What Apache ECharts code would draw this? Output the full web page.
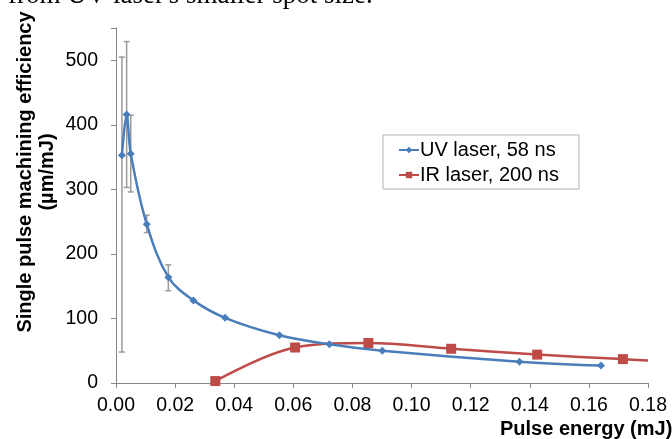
<!DOCTYPE html>
<html><head><meta charset="utf-8">
<script src="https://cdn.jsdelivr.net/npm/echarts@6/dist/echarts.min.js"></script>
<style>html,body{margin:0;padding:0;background:#fff}#c{width:672px;height:439px}</style>
</head><body><div id="c"></div>
<script>
const uvX = [0.002, 0.0036, 0.005, 0.0104, 0.0177, 0.0262, 0.0369, 0.0553, 0.0722, 0.0901, 0.1365, 0.1641];
const uvY = [353, 416, 355, 246, 164, 128, 101, 74, 60, 50, 33, 27];
const uvErrLow = [48, 303, 296, 233, 143, null, null, null, null, null, null, null];
const uvErrHigh = [505, 529, 415, 260, 183, null, null, null, null, null, null, null];
const irX = [0.0336, 0.0606, 0.0854, 0.1134, 0.1425, 0.1715, 0.18];
const irY = [3, 55, 62, 53, 44, 37, 35];
const irMarker = [true, true, true, true, true, true, false];
const xTicks = ['0.00','0.02','0.04','0.06','0.08','0.10','0.12','0.14','0.16','0.18'];
const yTicks = ['0','100','200','300','400','500'];

const uvData = uvX.map((x, i) => [x, uvY[i]]);
const irData = irX.map((x, i) => irMarker[i] ? [x, irY[i]] : {value: [x, irY[i]], symbol: 'none'});
const errData = [];
uvX.forEach((x, i) => { if (uvErrLow[i] != null) errData.push([x, uvErrLow[i], uvErrHigh[i]]); });

const chart = echarts.init(document.getElementById('c'));
const axisCol = '#868686';
chart.setOption({
  animation: false,
  textStyle: {fontFamily: 'Liberation Sans'},
  grid: {left: 116, right: 24, top: 28, bottom: 56},
  xAxis: {
    type: 'value', min: 0, max: 0.18, interval: 0.02,
    axisLine: {lineStyle: {color: axisCol}},
    axisTick: {show: true, length: 5, lineStyle: {color: axisCol}},
    splitLine: {show: false},
    axisLabel: {color: '#000', fontSize: 19.5, margin: 13, formatter: v => xTicks[Math.round(v / 0.02)]}
  },
  yAxis: {
    type: 'value', min: 0, max: 550, interval: 100,
    axisLine: {show: true, lineStyle: {color: axisCol}},
    axisTick: {show: true, length: 5, lineStyle: {color: axisCol}},
    splitLine: {show: false},
    axisLabel: {color: '#000', fontSize: 19.5, margin: 18, formatter: v => (v % 100 === 0 && v <= 500) ? yTicks[v / 100] : ''}
  },
  legend: {
    show: true, left: 383, top: 135, orient: 'vertical', itemGap: 5,
    padding: [5, 20, 4, 15], borderColor: '#b3b3b3', borderWidth: 1, borderRadius: 0,
    itemWidth: 20, itemHeight: 8,
    textStyle: {fontSize: 20, color: '#000', padding: [0, 0, 0, -4]},
    data: [{name: 'UV laser, 58 ns'}, {name: 'IR laser, 200 ns'}]
  },
  graphic: [
    {type: 'text', left: 8, top: -18, style: {text: "from UV laser's smaller spot size.", font: '27px "Liberation Serif"', fill: '#000'}},
    {type: 'text', x: 25, y: 172, rotation: Math.PI / 2, style: {text: 'Single pulse machining efficiency', font: 'bold 20px "Liberation Sans"', fill: '#000', align: 'center', verticalAlign: 'middle'}},
    {type: 'text', x: 47, y: 172, rotation: Math.PI / 2, style: {text: '(µm/mJ)', font: 'bold 20px "Liberation Sans"', fill: '#000', align: 'center', verticalAlign: 'middle'}},
    {type: 'text', x: 500, y: 429, style: {text: 'Pulse energy (mJ)', font: 'bold 20px "Liberation Sans"', fill: '#000', align: 'left', verticalAlign: 'middle'}}
  ],
  series: [
    {
      type: 'custom', name: 'err', silent: true, z: 1,
      data: errData,
      renderItem: function (params, api) {
        const x = api.value(0);
        const lo = api.coord([x, api.value(1)]);
        const hi = api.coord([x, api.value(2)]);
        const w = 3;
        const st = {stroke: '#9a9a9a', lineWidth: 1.5};
        return {type: 'group', children: [
          {type: 'line', shape: {x1: lo[0], y1: lo[1], x2: hi[0], y2: hi[1]}, style: st},
          {type: 'line', shape: {x1: lo[0] - w, y1: lo[1], x2: lo[0] + w, y2: lo[1]}, style: st},
          {type: 'line', shape: {x1: hi[0] - w, y1: hi[1], x2: hi[0] + w, y2: hi[1]}, style: st}
        ]};
      }
    },
    {
      type: 'line', name: 'UV laser, 58 ns', data: uvData, smooth: 0.35, z: 3,
      symbol: 'diamond', symbolSize: 8, showAllSymbol: true,
      lineStyle: {color: '#4a7ebb', width: 2.5}, itemStyle: {color: '#4a7ebb'}
    },
    {
      type: 'line', name: 'IR laser, 200 ns', data: irData, smooth: 0.35, z: 2,
      symbol: 'rect', symbolSize: 10, showAllSymbol: true,
      lineStyle: {color: '#be4b48', width: 2.5}, itemStyle: {color: '#be4b48'}
    }
  ]
});
</script></body></html>
